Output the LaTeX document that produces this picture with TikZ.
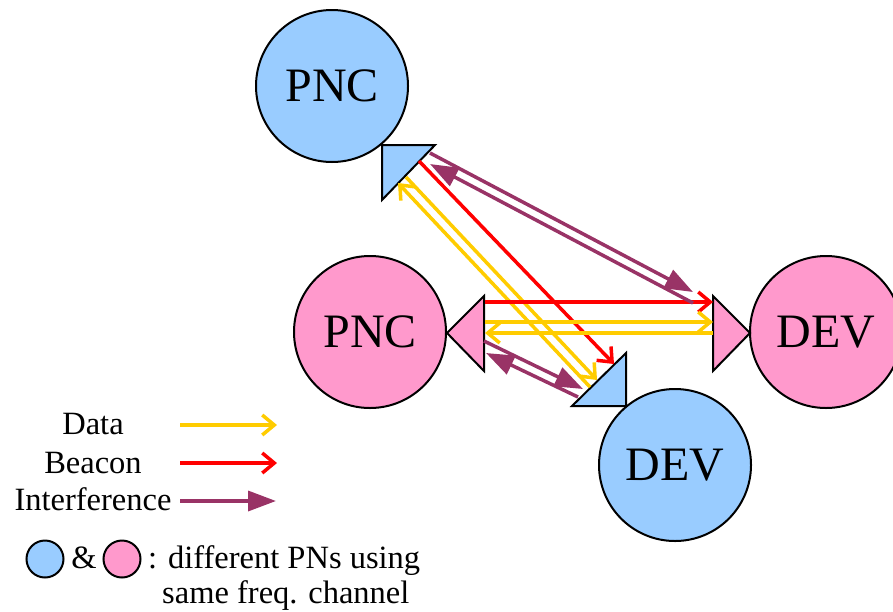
\documentclass[tikz,border=0pt]{standalone}
\usepackage{fontspec}
\setmainfont{Liberation Serif}
\usetikzlibrary{arrows.meta}
\definecolor{pnblue}{HTML}{99CCFF}
\definecolor{pnpink}{HTML}{FF99CC}
\definecolor{datay}{HTML}{FFCC00}
\definecolor{intf}{HTML}{993366}
\begin{document}
\begin{tikzpicture}[x=1pt,y=-1pt,
  pn/.style={circle,draw=black,line width=2pt,minimum size=152pt,inner sep=0pt,font=\fontsize{48}{48}\selectfont},
  tri/.style={draw=black,line width=2pt,line join=miter},
  datarr/.style={draw=datay,line width=3.5pt,-{Straight Barb[length=12pt,width=20pt]}},
  beacarr/.style={draw=red,line width=3.5pt,-{Straight Barb[length=12pt,width=20pt]}},
  intarr/.style={draw=intf,line width=3.5pt,-{Triangle[length=28pt,width=20pt]}},
  lab/.style={font=\fontsize{32.5}{32.5}\selectfont,anchor=base,inner sep=0pt},
  legc/.style={circle,draw=black,line width=2pt,minimum size=37pt,inner sep=0pt}]
\useasboundingbox (0,0) rectangle (893,611);

% circles
\node[pn,fill=pnblue] (pncA) at (332,86) {PNC};
\node[pn,fill=pnpink] (pncB) at (370,332) {PNC};
\node[pn,fill=pnpink] (devB) at (826,332) {DEV};
\node[pn,fill=pnblue] (devA) at (675,465) {DEV};

% antenna triangles
\filldraw[tri,fill=pnblue] (382,145) -- (435,145) -- (382,200) -- cycle;
\filldraw[tri,fill=pnpink] (447,333) -- (484,296) -- (484,371) -- cycle;
\filldraw[tri,fill=pnpink] (713,296) -- (750,333) -- (713,371) -- cycle;
\filldraw[tri,fill=pnblue] (626,353) -- (626,406) -- (572,406) -- cycle;

% connector end points
\coordinate (ya1) at (406,177); \coordinate (yb1) at (597,380);
\coordinate (yb2) at (590,387); \coordinate (ya2) at (398,183);
\coordinate (ra) at (419,161);  \coordinate (rb) at (614,364);
\coordinate (rc) at (485,302);  \coordinate (rd) at (713,302);
\coordinate (yc1) at (485,322); \coordinate (yd1) at (713,322);
\coordinate (yd2) at (713,333); \coordinate (yc2) at (485,333);
\coordinate (ia1) at (430,153); \coordinate (ib1) at (693,292);
\coordinate (ib2) at (693,303); \coordinate (ia2) at (430,164);
\coordinate (ic1) at (484,341); \coordinate (id1) at (583,389);
\coordinate (id2) at (578,397); \coordinate (ic2) at (486,353);

\draw[datarr] (ya1) -- (yb1);
\draw[datarr] (yb2) -- (ya2);
\draw[beacarr] (ra) -- (rb);
\draw[beacarr] (rc) -- (rd);
\draw[datarr] (yc1) -- (yd1);
\draw[datarr] (yd2) -- (yc2);
\draw[intarr] (ia1) -- (ib1);
\draw[intarr] (ib2) -- (ia2);
\draw[intarr] (ic1) -- (id1);
\draw[intarr] (id2) -- (ic2);

% legend
\node[lab] (ldata) at (93,434) {Data};
\node[lab] (lbeac) at (93,473) {Beacon};
\node[lab] (lintf) at (93,510) {Interference};
\coordinate (lya) at (180,425); \coordinate (lyb) at (277,425);
\coordinate (lra) at (180,463); \coordinate (lrb) at (277,463);
\coordinate (lia) at (180,501); \coordinate (lib) at (276,501);
\draw[datarr] (lya) -- (lyb);
\draw[beacarr] (lra) -- (lrb);
\draw[intarr] (lia) -- (lib);

\node[legc,fill=pnblue] (lcb) at (45,559) {};
\node[lab] (amp) at (84,568) {\&};
\node[legc,fill=pnpink] (lcp) at (122,559) {};
\node[lab,anchor=base west] (ltext1) at (148,568) {: different PNs using};
\node[lab,anchor=base west] (ltext2) at (162,603) {same freq. channel};
\end{tikzpicture}
\end{document}
